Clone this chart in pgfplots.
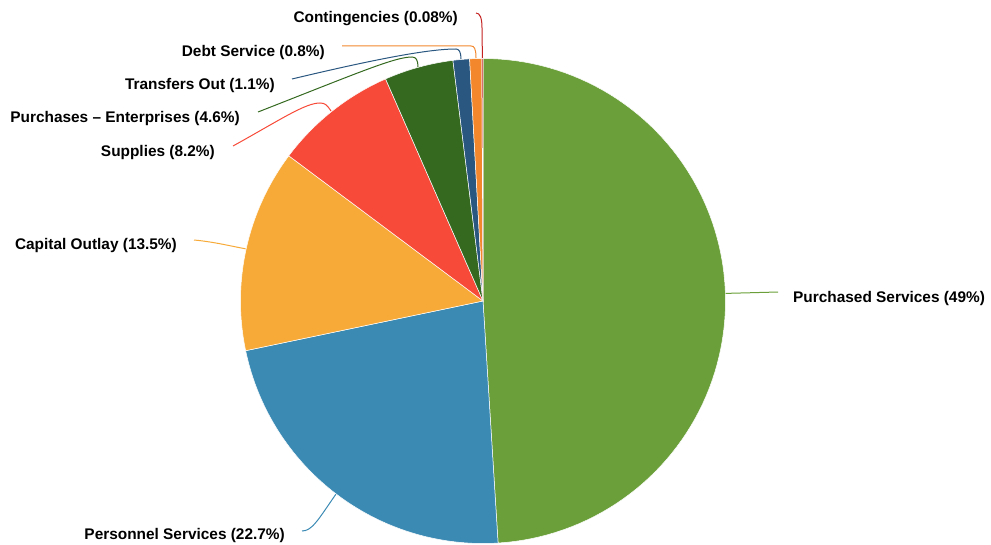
\documentclass[border=0pt]{standalone}
\usepackage{pgfplots}
\usepackage{pgfplotstable}
\pgfplotsset{compat=1.18}
\usepackage{fontspec}
\setmainfont{Liberation Sans}
\definecolor{c0}{HTML}{6A9F39}
\definecolor{c1}{HTML}{3B8AB4}
\definecolor{c2}{HTML}{F7AA38}
\definecolor{c3}{HTML}{F84A38}
\definecolor{c4}{HTML}{34691F}
\definecolor{c5}{HTML}{2A5780}
\definecolor{c6}{HTML}{F2872C}
\definecolor{c7}{HTML}{C42121}
\pgfplotstableread[col sep=comma]{
name,value
Purchased Services,49
Personnel Services,22.7
Capital Outlay,13.5
Supplies,8.2
Purchases – Enterprises,4.6
Transfers Out,1.1
Debt Service,0.8
Contingencies,0.08
}\piedata
\begin{document}
\begin{tikzpicture}
\def\total{0}
\pgfplotsforeachungrouped \i in {0,...,7}{%
  \pgfplotstablegetelem{\i}{value}\of\piedata
  \pgfmathsetmacro\total{\total+\pgfplotsretval}%
}
\def\cum{0}
\pgfplotsforeachungrouped \i in {0,...,7}{%
  \pgfplotstablegetelem{\i}{value}\of\piedata
  \pgfmathsetmacro\sa{90-360*(\cum/\total)}%
  \pgfmathsetmacro\cum{\cum+\pgfplotsretval}%
  \pgfmathsetmacro\ea{90-360*(\cum/\total)}%
  \expandafter\let\csname sa\i\endcsname\sa
  \expandafter\let\csname ea\i\endcsname\ea
}
\begin{axis}[scale only axis, width=991bp, height=545bp,
  xmin=0, xmax=991, ymin=0, ymax=545, y dir=reverse,
  hide axis, clip=false]
\draw[draw=none] (axis cs:0,0) rectangle (axis cs:991,545);
\pgfplotsinvokeforeach{0,...,7}{
  \edef\lo{\csname ea#1\endcsname}\edef\hi{\csname sa#1\endcsname}
  \addplot[draw=white, line width=0.5bp, fill=c#1, domain=\lo:\hi, samples=90, variable=\t]
    ({483+242.5*cos(\t)}, {301-242.5*sin(\t)}) -- (axis cs:483,301) -- cycle;
}
% leader lines
\begin{scope}[line width=1bp]
\draw[c0] (axis cs:725.6,293.4) -- (axis cs:778,292);
\draw[c1] (axis cs:302,531) .. controls (axis cs:312,531) and (axis cs:318,520) .. (axis cs:335.8,494.3);
\draw[c2] (axis cs:194,240) .. controls (axis cs:215,242) and (axis cs:230,246) .. (axis cs:245.6,248.8);
\draw[c3] (axis cs:233,146) .. controls (axis cs:280,120) and (axis cs:305,103) .. (axis cs:320,103) .. controls (axis cs:325,103) and (axis cs:327,105) .. (axis cs:331,111);
\draw[c4] (axis cs:258,112) .. controls (axis cs:360,72) and (axis cs:395,57) .. (axis cs:412,57) .. controls (axis cs:416,57) and (axis cs:418,60) .. (axis cs:418,67);
\draw[c5] (axis cs:292,79) .. controls (axis cs:380,58) and (axis cs:430,49) .. (axis cs:456,49) .. controls (axis cs:459,49) and (axis cs:461,52) .. (axis cs:461,59);
\draw[c6] (axis cs:342,46) -- (axis cs:471,46) .. controls (axis cs:474,46) and (axis cs:476,48) .. (axis cs:476,58);
\draw[c7] (axis cs:476,13) .. controls (axis cs:480,13) and (axis cs:482,18) .. (axis cs:482,28) -- (axis cs:482.4,58);
\end{scope}
% labels
\begin{scope}[every node/.style={font=\fontsize{15.4bp}{18bp}\selectfont\bfseries, inner sep=0pt}]
\node[anchor=west] at (axis cs:793,299) {Purchased Services (49\%)};
\node[anchor=east] at (axis cs:285,536) {Personnel Services (22.7\%)};
\node[anchor=east] at (axis cs:177,246) {Capital Outlay (13.5\%)};
\node[anchor=east] at (axis cs:215,152.5) {Supplies (8.2\%)};
\node[anchor=east] at (axis cs:240,119) {Purchases – Enterprises (4.6\%)};
\node[anchor=east] at (axis cs:275,86) {Transfers Out (1.1\%)};
\node[anchor=east] at (axis cs:325,53) {Debt Service (0.8\%)};
\node[anchor=east] at (axis cs:458,19) {Contingencies (0.08\%)};
\end{scope}
\end{axis}
\end{tikzpicture}
\end{document}
